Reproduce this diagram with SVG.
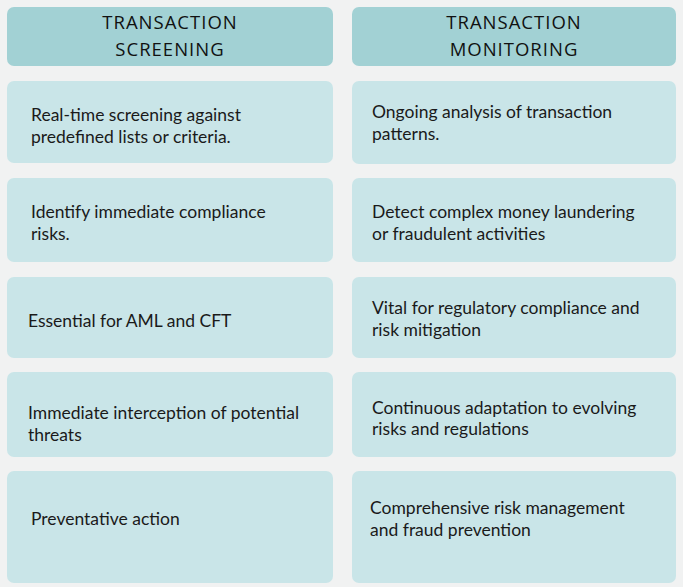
<svg xmlns="http://www.w3.org/2000/svg" width="683" height="587" viewBox="0 0 683 587">
<style>
.h{fill:#a2d1d4}
.b{fill:#c9e5e8}
.ht{font-family:"Open Sans",sans-serif;font-size:18.5px;font-weight:500;fill:#111;text-anchor:middle;letter-spacing:1px}
.t{font-family:Lato,sans-serif;font-size:17.5px;fill:#1a1a1a}
</style>
<rect width="683" height="587" fill="#f1f2f2"/>
<g id="h1"><rect class="h" x="7" y="7" width="326" height="59" rx="7"/><text class="ht" x="170" y="29">TRANSACTION</text><text class="ht" x="170" y="56">SCREENING</text></g>
<g id="h2"><rect class="h" x="352" y="7" width="324" height="59" rx="7"/><text class="ht" x="514" y="29">TRANSACTION</text><text class="ht" x="514" y="56">MONITORING</text></g>
<g id="l1"><rect class="b" x="7" y="81" width="326" height="82" rx="7"/><text class="t" x="31" y="121">Real-time screening against</text><text class="t" x="31" y="143">predefined lists or criteria.</text></g>
<g id="r1"><rect class="b" x="352" y="81" width="324" height="83" rx="7"/><text class="t" x="372" y="118">Ongoing analysis of transaction</text><text class="t" x="372" y="140">patterns.</text></g>
<g id="l2"><rect class="b" x="7" y="178" width="326" height="84" rx="7"/><text class="t" x="31" y="218">Identify immediate compliance</text><text class="t" x="31" y="240">risks.</text></g>
<g id="r2"><rect class="b" x="352" y="178" width="324" height="84" rx="7"/><text class="t" x="372" y="218">Detect complex money laundering</text><text class="t" x="372" y="240">or fraudulent activities</text></g>
<g id="l3"><rect class="b" x="7" y="277" width="326" height="81" rx="7"/><text class="t" x="28" y="327">Essential for AML and CFT</text></g>
<g id="r3"><rect class="b" x="352" y="277" width="324" height="81" rx="7"/><text class="t" x="372" y="314">Vital for regulatory compliance and</text><text class="t" x="372" y="336">risk mitigation</text></g>
<g id="l4"><rect class="b" x="7" y="372" width="326" height="85" rx="7"/><text class="t" x="28" y="419">Immediate interception of potential</text><text class="t" x="28" y="441">threats</text></g>
<g id="r4"><rect class="b" x="352" y="372" width="324" height="85" rx="7"/><text class="t" x="372" y="414">Continuous adaptation to evolving</text><text class="t" x="372" y="435">risks and regulations</text></g>
<g id="l5"><rect class="b" x="7" y="471" width="326" height="112" rx="7"/><text class="t" x="31" y="525">Preventative action</text></g>
<g id="r5"><rect class="b" x="352" y="471" width="324" height="112" rx="7"/><text class="t" x="370" y="514">Comprehensive risk management</text><text class="t" x="370" y="536">and fraud prevention</text></g>
<g id="connectors"/>
</svg>
